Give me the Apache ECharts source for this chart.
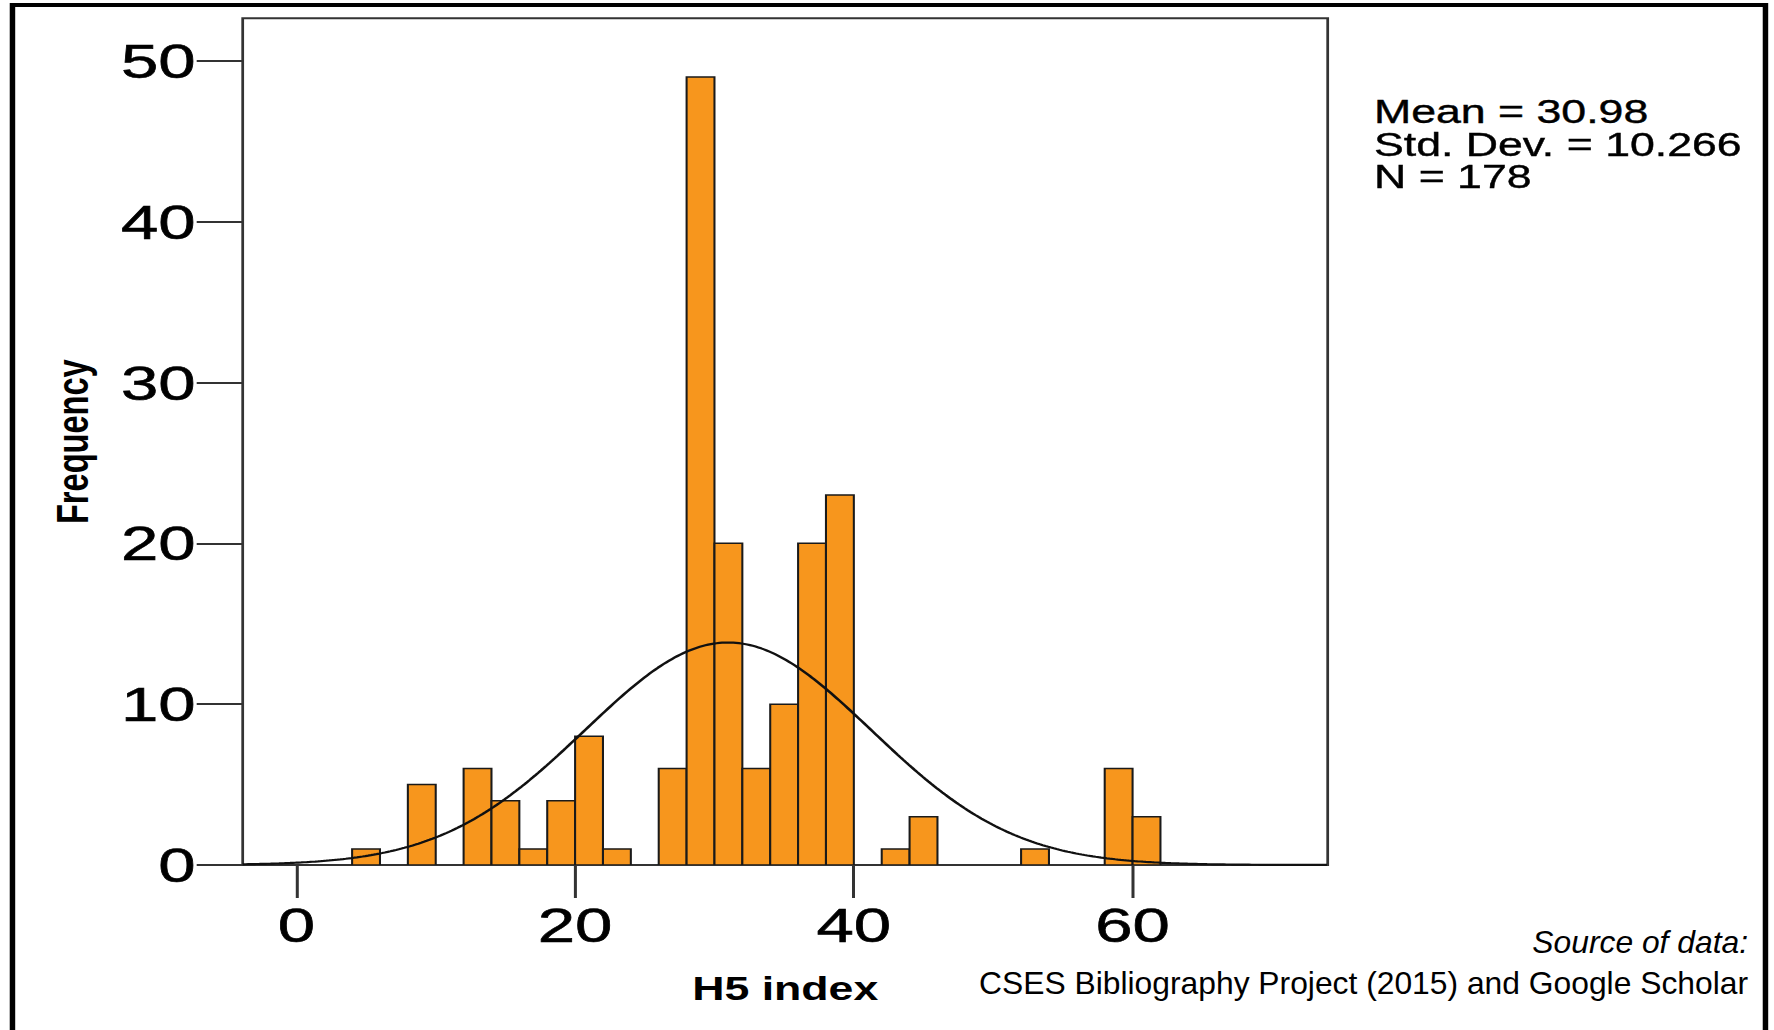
<!DOCTYPE html>
<html><head><meta charset="utf-8">
<script src="https://cdn.jsdelivr.net/npm/echarts@6/dist/echarts.min.js"></script>
<style>
html,body{margin:0;padding:0;background:#fff;overflow:hidden;width:1774px;height:1030px;}
#wrap{position:absolute;left:0;top:0;height:1030px;transform-origin:0 0;}
</style></head><body><div id="wrap"></div>
<script>
// ---- data ----
const binStarts = [4, 8, 12, 14, 16, 18, 20, 22, 26, 28, 30, 32, 34, 36, 38, 42, 44, 52, 58, 60];
const binCounts = [1, 5, 6, 4, 1, 4, 8, 1, 6, 49, 20, 6, 10, 20, 23, 1, 3, 1, 6, 3];
const binWidth = 2;
const xTickValues = [0, 20, 40, 60];
const yTickValues = [0, 10, 20, 30, 40, 50];
const statMean = 30.98;
const statSD = 10.266;
const statN = 178;
const statLines = ['Mean = 30.98', 'Std. Dev. = 10.266', 'N = 178'];
const xTitle = 'H5 index';
const yTitle = 'Frequency';
const sourceLines = ['Source of data:', 'CSES Bibliography Project (2015) and Google Scholar'];

// ---- layout ----
const S = 1.37;               // horizontal stretch of the original picture
const W = 1774, H = 1030;
const X_MIN = -3.85, X_MAX = 74, Y_MAX = 52.65;
const wrap = document.getElementById('wrap');
wrap.style.width = (W / S) + 'px';
wrap.style.transform = 'scaleX(' + S + ')';

const chart = echarts.init(wrap, null, { renderer: 'svg', width: W / S, height: H });

// fitted normal curve (from the printed Mean, Std. Dev. and N)
const curve = [];
for (let x = X_MIN; x <= X_MAX + 1e-9; x += 0.2) {
  const z = (x - statMean) / statSD;
  curve.push([x, statN * binWidth * Math.exp(-0.5 * z * z) / (statSD * Math.sqrt(2 * Math.PI))]);
}

const bars = binStarts.map((s, i) => [s, s + binWidth, binCounts[i]]);
const FONT = '"Liberation Sans", Arial, Helvetica, sans-serif';

const graphics = [
  { type: 'rect', shape: { x: 9.1, y: 5, width: 1753 / S, height: 1100 },
    style: { fill: 'none', stroke: '#000', lineWidth: 4 }, z: 100, silent: true }
];
statLines.forEach((t, i) => {
  graphics.push({ type: 'text', x: 1374 / S, y: 112 + i * 32.6,
    style: { text: t, font: '32.6px ' + FONT, fill: '#000', stroke: '#000', lineWidth: 0.4,
      textAlign: 'left', textVerticalAlign: 'middle' } });
});
const srcY = [942, 983];
sourceLines.forEach((t, i) => {
  graphics.push({ type: 'text', x: 1748 / S, y: srcY[i], scaleX: 1 / S,
    style: { text: t, font: (i === 0 ? 'italic ' : '') + '31.8px ' + FONT, fill: '#000', textAlign: 'right', textVerticalAlign: 'middle' } });
});

const labelStyle = { fontFamily: FONT, fontSize: 49, color: '#000', textBorderColor: '#000', textBorderWidth: 0.6 };

chart.setOption({
  animation: false,
  backgroundColor: '#fff',
  grid: { left: 242.7 / S, right: (W - 1327.7) / S, top: 18.3, bottom: H - 865,
    show: true, borderColor: '#333', borderWidth: 2, backgroundColor: 'transparent',
    containLabel: false, outerBoundsMode: 'none' },
  xAxis: {
    type: 'value', min: X_MIN, max: X_MAX,
    name: xTitle, nameLocation: 'middle', nameGap: 107,
    nameTextStyle: { fontFamily: FONT, fontWeight: 'bold', fontSize: 32.6, color: '#000' },
    axisLine: { show: false, onZero: false },
    axisTick: { show: true, customValues: xTickValues, length: 33, inside: false, lineStyle: { color: '#333', width: 2.2 } },
    axisLabel: Object.assign({ customValues: xTickValues, margin: 35 }, labelStyle),
    splitLine: { show: false }
  },
  yAxis: {
    type: 'value', min: 0, max: Y_MAX,
    name: yTitle, nameLocation: 'middle', nameGap: 108,
    nameTextStyle: { fontFamily: FONT, fontWeight: 'bold', fontSize: 32.6, color: '#000' },
    axisLine: { show: false, onZero: false },
    axisTick: { show: true, customValues: yTickValues, length: 46 / S, inside: false, lineStyle: { color: '#333', width: 2 } },
    axisLabel: Object.assign({ customValues: yTickValues, margin: 34.3 }, labelStyle),
    splitLine: { show: false }
  },
  graphic: graphics,
  series: [
    {
      type: 'custom', data: bars, encode: { x: [0, 1], y: 2 }, clip: true, z: 2,
      renderItem: (params, api) => {
        const p0 = api.coord([api.value(0), api.value(2)]);
        const p1 = api.coord([api.value(1), 0]);
        return { type: 'rect',
          shape: { x: p0[0], y: p0[1], width: p1[0] - p0[0], height: p1[1] - p0[1] },
          style: { fill: '#F7961D', stroke: '#1a1a1a', lineWidth: 1.5 } };
      }
    },
    {
      type: 'line', data: curve, showSymbol: false, smooth: false, clip: true, z: 3,
      lineStyle: { color: '#111', width: 2.2 }, emphasis: { disabled: true }
    }
  ]
});
</script></body></html>
